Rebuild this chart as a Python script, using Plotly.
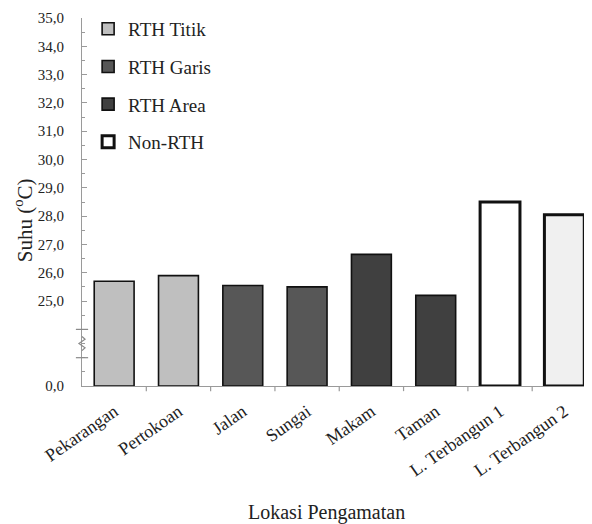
import plotly.graph_objects as go

categories = ["Pekarangan", "Pertokoan", "Jalan", "Sungai", "Makam", "Taman",
              "L. Terbangun 1", "L. Terbangun 2"]
groups = ["RTH Titik", "RTH Titik", "RTH Garis", "RTH Garis", "RTH Area", "RTH Area",
          "Non-RTH", "Non-RTH"]
values = [25.7, 25.9, 25.55, 25.5, 26.65, 25.2, 28.5, 28.05]
group_names = ["RTH Titik", "RTH Garis", "RTH Area", "Non-RTH"]
tick_values = [0.0, 25.0, 26.0, 27.0, 28.0, 29.0, 30.0, 31.0, 32.0, 33.0, 34.0, 35.0]

BREAK_OFFSET = 22.0  # values >= 25 are drawn shifted down by this amount


def to_axis(v):
    return v - BREAK_OFFSET if v >= 25 else v * (3.0 / 25.0)


fill = {"RTH Titik": ["#bfbfbf", "#bfbfbf"], "RTH Garis": ["#575757", "#575757"],
        "RTH Area": ["#404040", "#404040"], "Non-RTH": ["#ffffff", "#f0f0f0"]}
lw = {"RTH Titik": 1.6, "RTH Garis": 1.6, "RTH Area": 1.6, "Non-RTH": 3}

fig = go.Figure()
for g in group_names:
    xs = [c for c, gg in zip(categories, groups) if gg == g]
    ys = [to_axis(v) for v, gg in zip(values, groups) if gg == g]
    fig.add_trace(go.Bar(
        x=xs, y=ys, name=g, legendgroup=g, width=0.62,
        marker=dict(color=fill[g], line=dict(color="#111111", width=lw[g])),
        customdata=[v for v, gg in zip(values, groups) if gg == g],
        hovertemplate="%{x}: %{customdata:.2f}<extra></extra>",
    ))

font = "Liberation Serif, Times New Roman, serif"
fig.update_layout(
    width=584, height=516,
    margin=dict(l=74, r=0, t=10, b=138),
    paper_bgcolor="white", plot_bgcolor="white",
    font=dict(family=font, size=14, color="#222222"),
    barmode="overlay",
    showlegend=True,
    legend=dict(x=0.012, y=1.022, xanchor="left", yanchor="top",
                font=dict(family=font, size=19, color="#222222"),
                traceorder="grouped", tracegroupgap=10,
                bgcolor="rgba(0,0,0,0)"),
    xaxis=dict(
        categoryorder="array", categoryarray=categories,
        range=[-0.5, 7.43], showline=True, linecolor="#9a9a9a", linewidth=1.2,
        ticks="", tickangle=-35, showgrid=False, zeroline=False, automargin=False,
        ticklabelshift=0, ticklabelstandoff=7,
        tickfont=dict(family=font, size=18, color="#222222"),
    ),
    yaxis=dict(
        range=[0, 13], showline=True, linecolor="#9a9a9a", linewidth=1.2,
        tickvals=[to_axis(v) for v in tick_values],
        ticktext=[f"{v:.1f}".replace(".", ",") for v in tick_values],
        ticks="inside", ticklen=5, tickcolor="#9a9a9a", ticklabelstandoff=14,
        minor=dict(dtick=0.5, ticks="inside", ticklen=3, tickcolor="#9a9a9a"),
        showgrid=False, zeroline=False, automargin=False,
        tickfont=dict(family=font, size=15, color="#222222"),
    ),
)

# category boundary ticks on x axis
for i in range(len(categories)):
    fig.add_shape(type="line", xref="x", yref="paper", x0=i + 0.5, x1=i + 0.5,
                  y0=0, y1=-0.014, line=dict(color="#9a9a9a", width=1.2))

# axis break: crossing ticks and zigzag
for yv in [1, 2]:
    fig.add_shape(type="line", xref="paper", yref="y", x0=-0.012, x1=0.012,
                  y0=yv, y1=yv, line=dict(color="#8a8a8a", width=1.2))
zig = "M -0.0 1.25 L 0.006 1.35 L -0.006 1.5 L 0.006 1.65 L -0.0 1.75"
fig.add_shape(type="path", xref="paper", yref="y",
              path=zig, line=dict(color="#8a8a8a", width=1.2))

fig.add_annotation(text="Suhu (<sup>o</sup>C)", xref="paper", yref="paper",
                   x=-0.114, y=0.45, textangle=-90, showarrow=False,
                   xanchor="center", yanchor="middle",
                   font=dict(family=font, size=21, color="#222222"))
fig.add_annotation(text="Lokasi Pengamatan", xref="paper", yref="paper",
                   x=0.48, y=-0.345, showarrow=False,
                   xanchor="center", yanchor="middle",
                   font=dict(family=font, size=20, color="#222222"))

fig.write_html("out.html")
